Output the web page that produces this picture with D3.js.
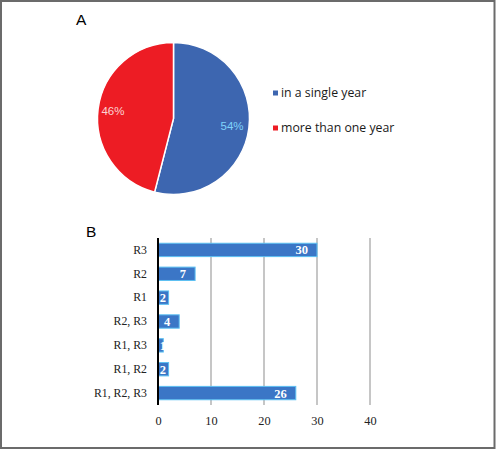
<!DOCTYPE html>
<html>
<head>
<meta charset="utf-8">
<script src="https://cdn.jsdelivr.net/npm/d3@7"></script>
<style>
    body { margin: 0; background: #fff; }
    svg { display: block; }
</style>
</head>
<body>
<div id="chart"></div>
<script>
// Panel A data
const pieLabels = ['in a single year', 'more than one year'];
const pieValues = [54, 46];
const pieColors = ['#3d66b0', '#ed1c24'];
const pieTextColors = ['#7fd3fb', '#fbd3d3'];

// Panel B data
const barCategories = ['R3', 'R2', 'R1', 'R2, R3', 'R1, R3', 'R1, R2', 'R1, R2, R3'];
const barValues = [30, 7, 2, 4, 1, 2, 26];
const xTicks = [0, 10, 20, 30, 40];

const W = 497, H = 450;

let svg = d3.select('#chart')
    .append('svg')
    .attr('width', W)
    .attr('height', H);

svg.append('rect')
    .attr('width', W)
    .attr('height', H)
    .attr('fill', '#fff');

// Outer frame
svg.append('rect')
    .attr('x', 1)
    .attr('y', 1)
    .attr('width', 493.5)
    .attr('height', 447)
    .attr('fill', 'none')
    .attr('stroke', '#6b6b6b')
    .attr('stroke-width', 2);

// ---- Panel A: pie ----
svg.append('text')
    .attr('x', 76)
    .attr('y', 25)
    .attr('font-family', 'Liberation Sans, Arial, sans-serif')
    .attr('font-size', 15.5)
    .attr('fill', '#000')
    .text('A');

let pieData = d3.pie().sort(null)(pieValues);
let arc = d3.arc().innerRadius(0).outerRadius(76);
let labelArc = d3.arc().innerRadius(60).outerRadius(60);

let pieG = svg.append('g')
    .attr('transform', 'translate(173.5,118.5)');

pieG.selectAll('path')
    .data(pieData)
    .join('path')
    .attr('d', arc)
    .attr('fill', function (d, i) { return pieColors[i]; })
    .attr('stroke', '#fff')
    .attr('stroke-width', 1.5);

pieG.selectAll('text')
    .data(pieData)
    .join('text')
    .attr('transform', function (d) {
        let c = labelArc.centroid(d);
        return 'translate(' + (c[0] - 1) + ',' + c[1] + ')';
    })
    .attr('text-anchor', 'middle')
    .attr('dy', '0.35em')
    .attr('font-family', 'Liberation Sans, Arial, sans-serif')
    .attr('font-size', 11.5)
    .attr('fill', function (d, i) { return pieTextColors[i]; })
    .text(function (d) { return d.data + '%'; });

// Legend
let legend = svg.append('g')
    .attr('transform', 'translate(273,93)');

pieLabels.forEach(function (label, i) {
    let row = legend.append('g')
        .attr('transform', 'translate(0,' + (i * 35) + ')');
    row.append('rect')
        .attr('x', 0)
        .attr('y', -2.5)
        .attr('width', 5)
        .attr('height', 5)
        .attr('fill', pieColors[i]);
    row.append('text')
        .attr('x', 8)
        .attr('y', 0)
        .attr('dy', '0.35em')
        .attr('font-family', 'Open Sans, sans-serif')
        .attr('font-size', 12.3)
        .attr('fill', '#1a1a1a')
        .text(label);
});

// ---- Panel B: horizontal bars ----
svg.append('text')
    .attr('x', 86)
    .attr('y', 237)
    .attr('font-family', 'Liberation Sans, Arial, sans-serif')
    .attr('font-size', 15.5)
    .attr('fill', '#000')
    .text('B');

let x = d3.scaleLinear()
    .domain([0, 40])
    .range([158, 370]);

let y = d3.scaleBand()
    .domain(barCategories)
    .range([238, 405])
    .paddingInner(0.44)
    .paddingOuter(0.22);

let barG = svg.append('g');

// gridlines
barG.selectAll('line.grid')
    .data(xTicks.slice(1))
    .join('line')
    .attr('class', 'grid')
    .attr('x1', function (d) { return x(d); })
    .attr('x2', function (d) { return x(d); })
    .attr('y1', 238)
    .attr('y2', 405)
    .attr('stroke', '#b3b3b3')
    .attr('stroke-width', 1.5);

barG.selectAll('rect.bar')
    .data(barValues)
    .join('rect')
    .attr('class', 'bar')
    .attr('x', x(0))
    .attr('y', function (d, i) { return y(barCategories[i]); })
    .attr('width', function (d) { return x(d) - x(0); })
    .attr('height', y.bandwidth())
    .attr('fill', '#3b76c6')
    .attr('stroke', '#5cc0f2')
    .attr('stroke-width', 1);

barG.selectAll('text.val')
    .data(barValues)
    .join('text')
    .attr('class', 'val')
    .attr('x', function (d) {
        let w = String(d).length * 6.5;
        return Math.max(x(d) - 9, x(0) + w + 1.5);
    })
    .attr('y', function (d, i) { return y(barCategories[i]) + y.bandwidth() / 2; })
    .attr('dy', '0.36em')
    .attr('text-anchor', 'end')
    .attr('font-family', 'Liberation Serif, serif')
    .attr('font-weight', 'bold')
    .attr('font-size', 12.5)
    .attr('fill', '#fff')
    .text(function (d) { return d; });

// y axis (category labels + black axis line)
let yAxis = svg.append('g')
    .attr('transform', 'translate(' + x(0) + ',0)')
    .call(d3.axisLeft(y).tickSize(0).tickPadding(11));
yAxis.select('.domain')
    .attr('stroke', '#000')
    .attr('stroke-width', 2)
    .attr('d', 'M0,238V405');
yAxis.selectAll('text')
    .attr('font-family', 'Liberation Serif, serif')
    .attr('font-size', 11.8)
    .attr('fill', '#222');

// x axis labels
let xAxis = svg.append('g')
    .attr('transform', 'translate(0,405)')
    .call(d3.axisBottom(x).tickValues(xTicks).tickSize(0).tickPadding(11));
xAxis.select('.domain').remove();
xAxis.selectAll('text')
    .attr('font-family', 'Liberation Serif, serif')
    .attr('font-size', 12.3)
    .attr('fill', '#222');
</script>
</body>
</html>
